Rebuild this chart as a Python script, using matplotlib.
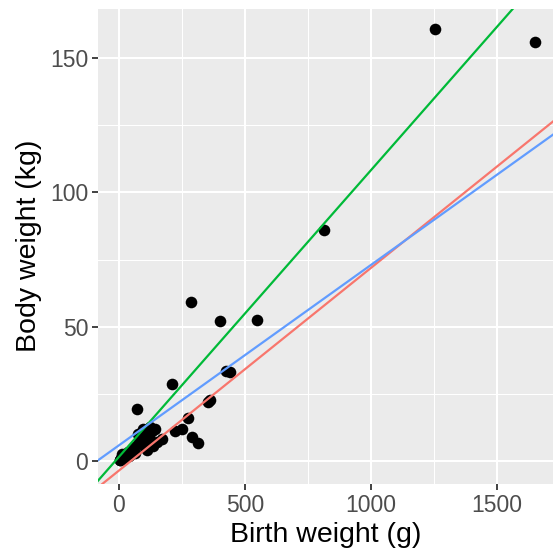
import numpy as np
import matplotlib
matplotlib.use('Agg')
from matplotlib import pyplot as plt
from matplotlib.ticker import MultipleLocator

# birth weight (g) vs adult body weight (kg)
birth_wt = [1650, 1255, 815, 548, 400, 285, 440, 425, 361, 355, 210, 70,
            275, 249, 222, 288, 312, 143, 96, 169, 136, 103, 63, 85, 75,
            120, 110, 45, 35, 25, 18, 10, 5, 3, 30, 55, 150, 130,
            80, 95, 60, 40, 20, 12, 105, 125]
body_wt = [156, 161, 86, 52.5, 52, 59, 33, 33.5, 22.5, 22, 28.5, 19.5,
           16, 12, 11, 9, 6.5, 12, 12, 8, 5.5, 5, 3, 8, 10,
           9, 4, 2.5, 3.5, 2, 1.5, 1, 0.5, 0.2, 1.5, 3, 7, 11,
           7, 6, 5, 2, 0.8, 2.5, 10.5, 12.5]

# fitted lines: intercept, slope, colour
fit_names = ['red', 'green', 'blue']
fit_intercepts = [-3.6, 1.5, 5.8]
fit_slopes = [0.0755, 0.1068, 0.0672]
fit_colors = ['#F8766D', '#00BA38', '#619CFF']

plt.rcParams['font.family'] = ['Liberation Sans', 'DejaVu Sans']

fig = plt.figure(figsize=(5.53, 5.54), dpi=100)
ax = fig.add_axes([98/553, 1-484/554, 1-98/553, (484-8.5)/554])
ax.set_facecolor('#EBEBEB')
for s in ax.spines.values():
    s.set_visible(False)

ax.xaxis.set_major_locator(MultipleLocator(500))
ax.xaxis.set_minor_locator(MultipleLocator(250))
ax.yaxis.set_major_locator(MultipleLocator(50))
ax.yaxis.set_minor_locator(MultipleLocator(25))
ax.grid(which='major', color='white', lw=1.5)
ax.grid(which='minor', color='white', lw=0.75)
ax.set_axisbelow(True)

ax.scatter(birth_wt, body_wt, s=70, color='black', zorder=2, lw=0)
for a, b, c in zip(fit_intercepts, fit_slopes, fit_colors):
    ax.axline((0, a), slope=b, color=c, lw=1.6, zorder=3)

ax.set_xlim(-83, 1722)
ax.set_ylim(-8.6, 168.5)

ax.tick_params(which='major', length=4, width=1.3, color='#333333',
               labelsize=16.5, labelcolor='#4D4D4D', pad=3)
ax.tick_params(which='minor', length=0)
ax.set_xlabel('Birth weight (g)', fontsize=20.5, labelpad=4)
ax.set_ylabel('Body weight (kg)', fontsize=20.5, labelpad=6)

fig.savefig('out.png', dpi=100)
plt.close()
